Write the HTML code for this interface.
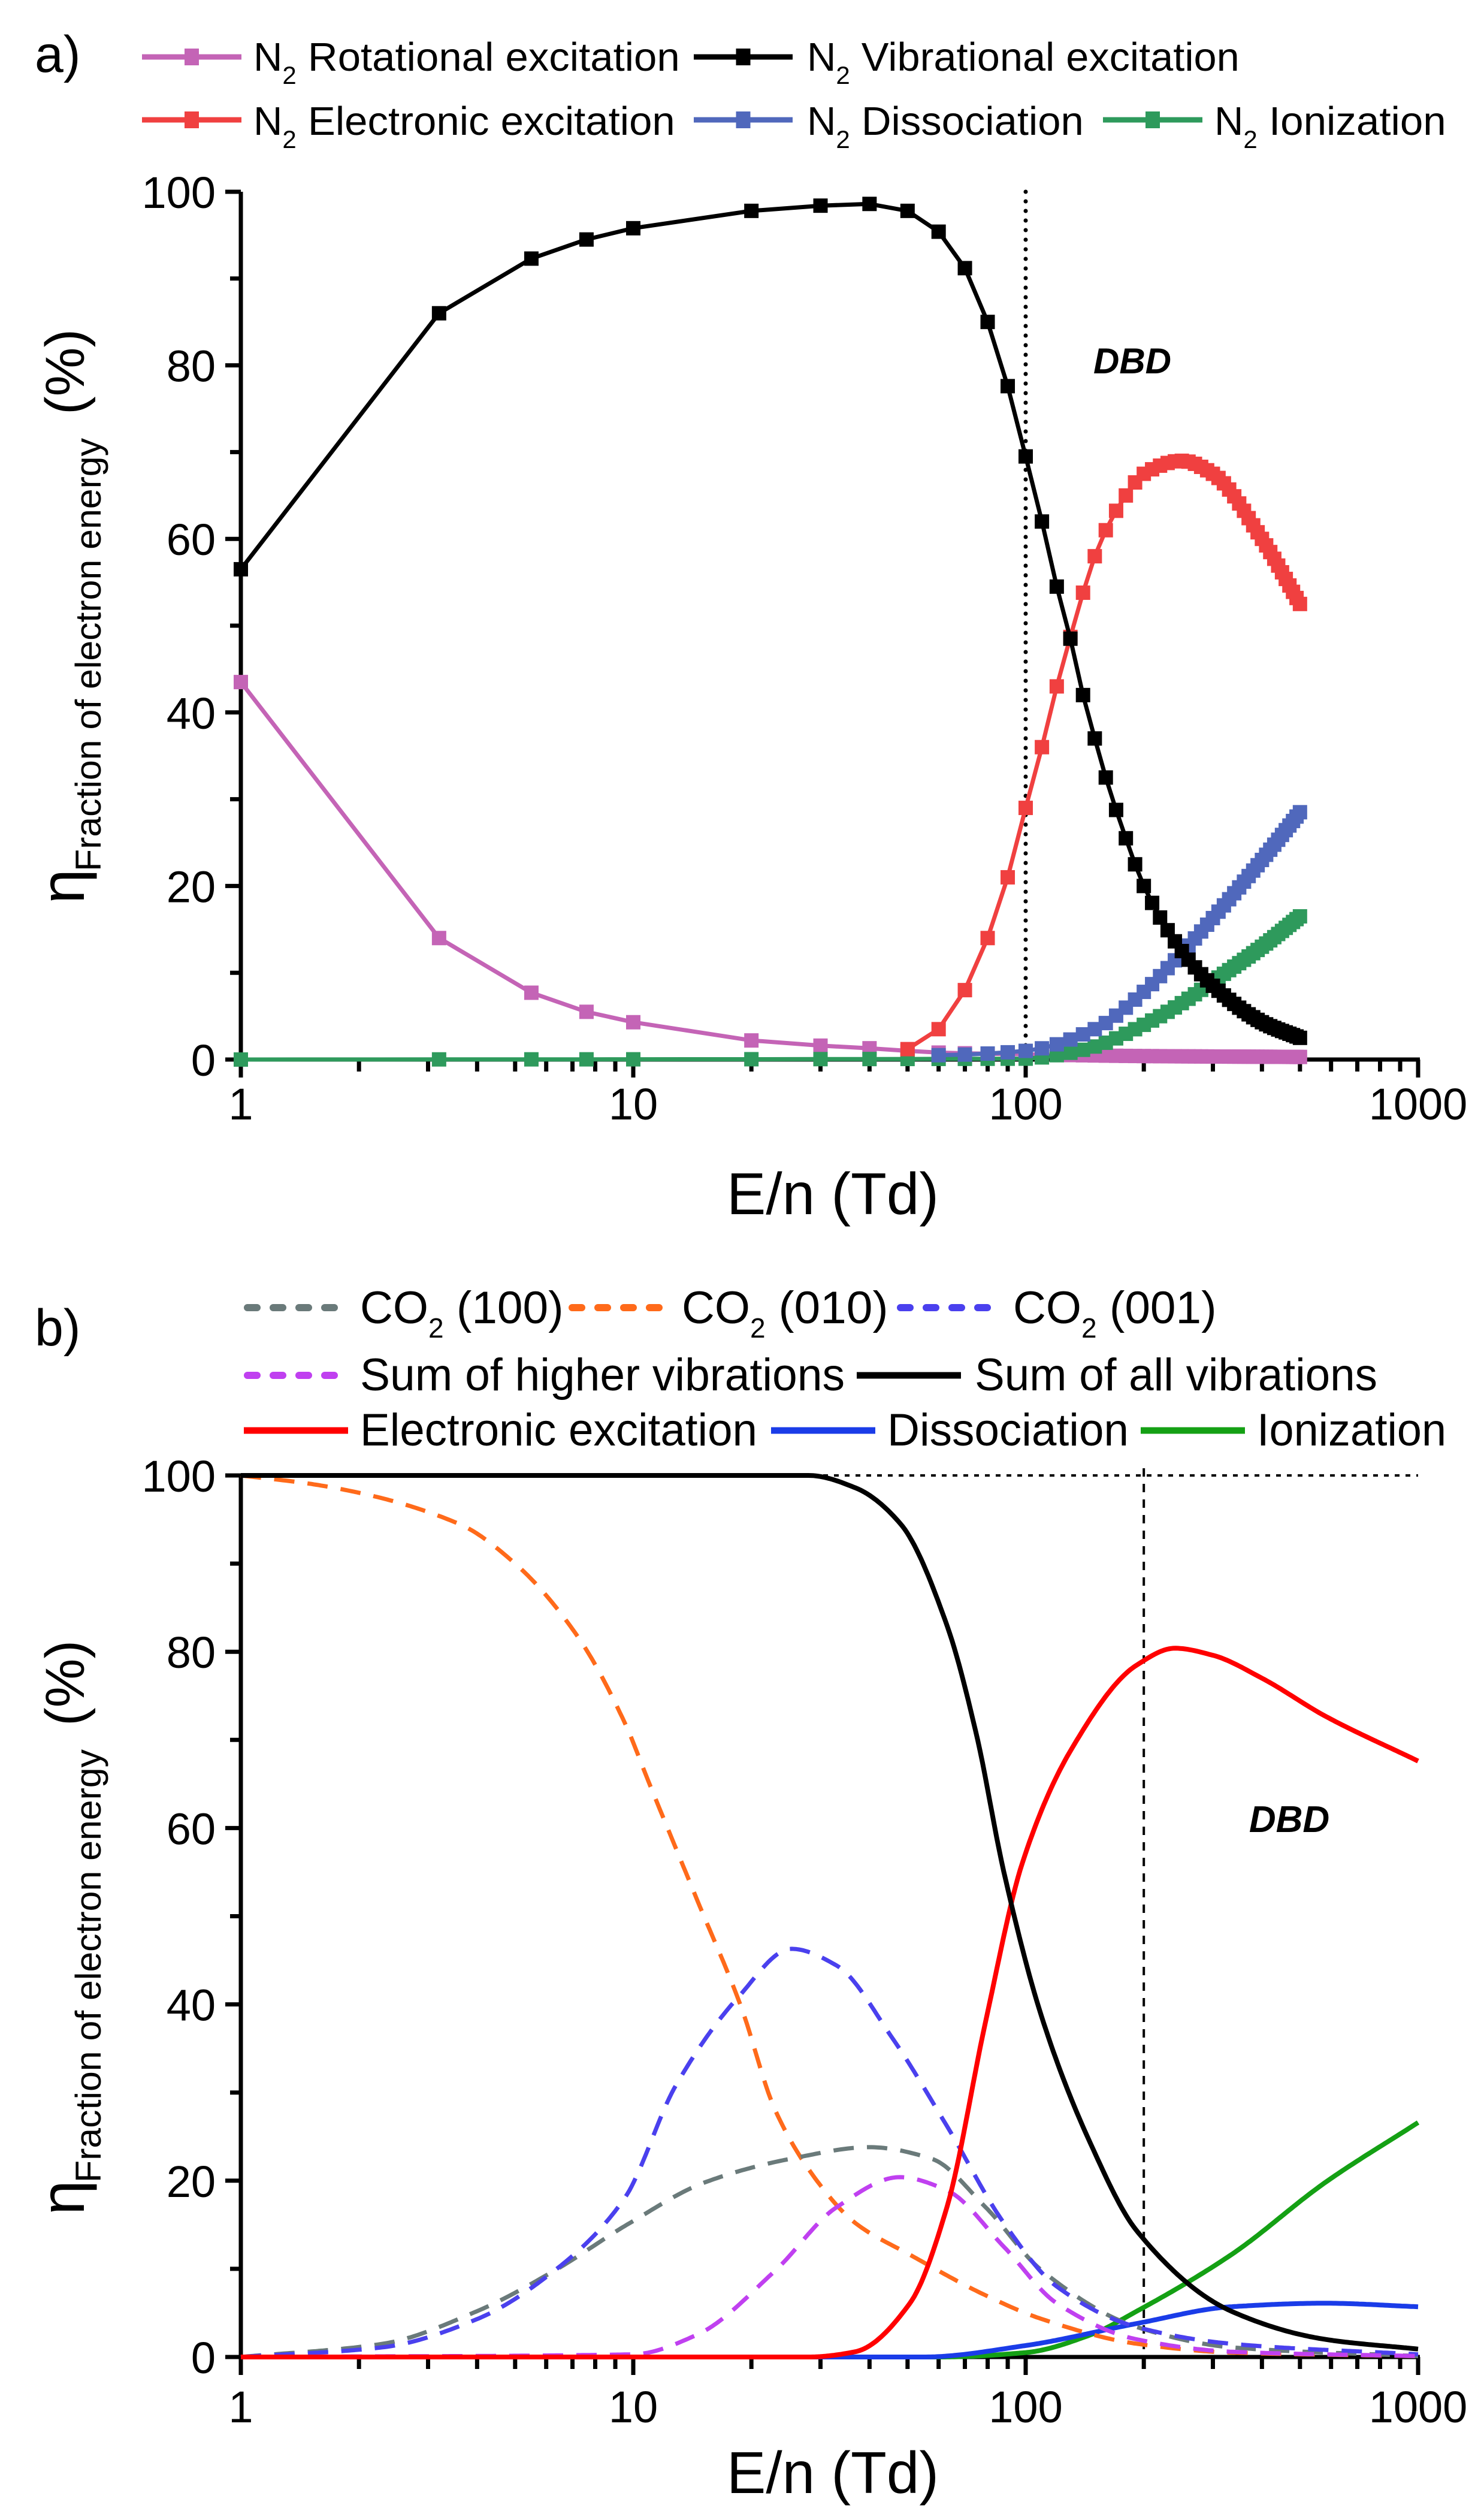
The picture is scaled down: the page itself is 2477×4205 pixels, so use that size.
<!DOCTYPE html>
<html><head><meta charset="utf-8"><style>
html,body{margin:0;padding:0;background:#fff;}
svg{display:block;}
text{font-family:"Liberation Sans",Arial,sans-serif;fill:#000;}
</style></head><body>
<svg id="s" xmlns="http://www.w3.org/2000/svg" width="2477" height="4205" viewBox="0 0 2477 4205">
<rect width="2477" height="4205" fill="#fff"/>
<defs><clipPath id="cl"><rect x="0" y="0" width="2453" height="4205"/></clipPath></defs>
<text x="58" y="120" font-size="86">a)</text>
<text x="58" y="2245" font-size="86">b)</text>
<g font-size="67">
<text x="423" y="118">N<tspan font-size="42" dy="22">2</tspan><tspan dy="-22" textLength="640" lengthAdjust="spacingAndGlyphs"> Rotational excitation</tspan></text>
<text x="1347" y="118">N<tspan font-size="42" dy="22">2</tspan><tspan dy="-22" textLength="650" lengthAdjust="spacingAndGlyphs"> Vibrational excitation</tspan></text>
<text x="423" y="225">N<tspan font-size="42" dy="22">2</tspan><tspan dy="-22" textLength="632" lengthAdjust="spacingAndGlyphs"> Electronic excitation</tspan></text>
<text x="1347" y="225">N<tspan font-size="42" dy="22">2</tspan><tspan dy="-22" textLength="390" lengthAdjust="spacingAndGlyphs"> Dissociation</tspan></text>
<text x="2027" y="225">N<tspan font-size="42" dy="22">2</tspan><tspan dy="-22" textLength="315" lengthAdjust="spacingAndGlyphs"> Ionization</tspan></text>
</g>
<g font-size="76">
<text x="601" y="2208">CO<tspan font-size="46" dy="24">2</tspan><tspan dy="-24" textLength="200" lengthAdjust="spacingAndGlyphs"> (100)</tspan></text>
<text x="1138" y="2208">CO<tspan font-size="46" dy="24">2</tspan><tspan dy="-24" textLength="205" lengthAdjust="spacingAndGlyphs"> (010)</tspan></text>
<text x="1691" y="2208">CO<tspan font-size="46" dy="24">2</tspan><tspan dy="-24" textLength="200" lengthAdjust="spacingAndGlyphs"> (001)</tspan></text>
<text x="601" y="2320" textLength="809" lengthAdjust="spacingAndGlyphs">Sum of higher vibrations</text>
<text x="1627" y="2320" textLength="672" lengthAdjust="spacingAndGlyphs">Sum of all vibrations</text>
<text x="601" y="2412" textLength="663" lengthAdjust="spacingAndGlyphs">Electronic excitation</text>
<text x="1481" y="2412" textLength="403" lengthAdjust="spacingAndGlyphs">Dissociation</text>
<text x="2098" y="2412" textLength="316" lengthAdjust="spacingAndGlyphs">Ionization</text>
</g>
<g transform="rotate(-90)">
<text x="-1508" y="140" font-size="104">η</text>
<text x="-1454" y="168" font-size="60" textLength="723" lengthAdjust="spacingAndGlyphs">Fraction of electron energy</text>
<text x="-692" y="140" font-size="92">(%)</text>
<text x="-3696" y="140" font-size="104">η</text>
<text x="-3642" y="168" font-size="60" textLength="723" lengthAdjust="spacingAndGlyphs">Fraction of electron energy</text>
<text x="-2880" y="140" font-size="92">(%)</text>
</g>
<text x="1390" y="2026" font-size="98" text-anchor="middle">E/n (Td)</text>
<text x="1390" y="4160" font-size="98" text-anchor="middle">E/n (Td)</text>
<text x="1890" y="623" font-size="60" font-weight="bold" font-style="italic" text-anchor="middle">DBD</text>
<text x="2152" y="3057" font-size="62" font-weight="bold" font-style="italic" text-anchor="middle">DBD</text>
<g id="dyn"></g>
</svg>
<script>
var NS="http://www.w3.org/2000/svg",G=document.getElementById("dyn");
function el(t,a){var e=document.createElementNS(NS,t);for(var k in a)e.setAttribute(k,a[k]);G.appendChild(e);return e;}
function X(v){return 402+655*Math.log10(v);}
function YA(p){return 1768-14.48*p;}
function YB(p){return 3933-14.71*p;}
function mono(pts){var n=pts.length,xs=pts.map(function(p){return Math.log10(p[0]);}),ys=pts.map(function(p){return p[1];});
 var d=[],m=[];for(var i=0;i<n-1;i++)d.push((ys[i+1]-ys[i])/(xs[i+1]-xs[i]));
 m[0]=d[0];m[n-1]=d[n-2];
 for(i=1;i<n-1;i++){if(d[i-1]*d[i]<=0)m[i]=0;else{var w1=2*(xs[i+1]-xs[i])+(xs[i]-xs[i-1]),w2=(xs[i+1]-xs[i])+2*(xs[i]-xs[i-1]);m[i]=(w1+w2)/(w1/d[i-1]+w2/d[i]);}}
 for(i=0;i<n-1;i++){if(d[i]==0){m[i]=0;m[i+1]=0;}}
 return function(x){var lx=Math.log10(x);if(lx<=xs[0])return ys[0];if(lx>=xs[n-1])return ys[n-1];
  for(var i=0;i<n-1;i++)if(lx<=xs[i+1]){var h=xs[i+1]-xs[i],t=(lx-xs[i])/h,t2=t*t,t3=t2*t;
   return (2*t3-3*t2+1)*ys[i]+(t3-2*t2+t)*h*m[i]+(-2*t3+3*t2)*ys[i+1]+(t3-t2)*h*m[i+1];}};}
function curve(pts,Y,x0,x1,attrs){var f=mono(pts),d="",n=500;for(var i=0;i<=n;i++){var lx=Math.log10(x0)+(Math.log10(x1)-Math.log10(x0))*i/n,x=Math.pow(10,lx);
 d+=(i?"L":"M")+X(x).toFixed(1)+","+Y(f(x)).toFixed(1);}
 attrs.d=d;attrs.fill="none";attrs["stroke-linejoin"]="round";el("path",attrs);}
function axes(Y0,Ytop,Yf){
 el("line",{x1:402,y1:Ytop,x2:402,y2:Y0+14,stroke:"#000","stroke-width":7});
 el("line",{x1:395,y1:Y0,x2:2370,y2:Y0,stroke:"#000","stroke-width":7});
 for(var p=0;p<=100;p+=10){var y=Yf(p);el("line",{x1:p%20?384:376,y1:y,x2:402,y2:y,stroke:"#000","stroke-width":7});
  if(p%20==0){var t=el("text",{x:360,y:y+27,"font-size":74,"text-anchor":"end"});t.textContent=p;}}
 for(var dec=0;dec<3;dec++)for(var k=1;k<=10;k++){var v=Math.pow(10,dec)*k;var x=X(v);
  if(k==1&&dec>0)continue;
  el("line",{x1:x,y1:Y0,x2:x,y2:Y0+((k==1||k==10)?30:20),stroke:"#000","stroke-width":7});}
}
axes(1768,320,YA);axes(3933,2462,YB);
var labs=[[1,"1"],[10,"10"],[100,"100"],[1000,"1000"]];
labs.forEach(function(l){var t=el("text",{x:X(l[0]),y:1868,"font-size":74,"text-anchor":"middle"});t.textContent=l[1];
 var t2=el("text",{x:X(l[0]),y:4042,"font-size":74,"text-anchor":"middle","clip-path":"url(#cl)"});t2.textContent=l[1];});
el("line",{x1:X(100),y1:320,x2:X(100),y2:1768,stroke:"#000","stroke-width":7,"stroke-dasharray":"0 16","stroke-linecap":"round"});
var xs=[1,3.2,5.5,7.6,10,20,30,40,50,60,70,80,90,100];
var dense=[];for(var v=110;v<=500;v+=10)dense.push(v);
var blk=[[1,56.5],[3.2,86],[5.5,92.3],[7.6,94.5],[10,95.8],[20,97.8],[30,98.4],[40,98.6],[50,97.8],[60,95.4],[70,91.2],[80,85],[90,77.6],[100,69.5],[110,62],[120,54.5],[130,48.5],[140,42],[150,37],[160,32.5],[180,25.5],[200,20],[250,12.5],[300,8.5],[400,4.3],[500,2.5]];
var red=[[1,0],[40,0],[50,1.2],[60,3.5],[70,8],[80,14],[90,21],[100,29],[110,36],[120,43],[130,48.7],[140,53.8],[150,58],[160,61],[180,65],[200,67.5],[250,69],[300,67.5],[400,60],[500,52.5]];
var rot=[[1,43.5],[3.2,14],[5.5,7.7],[7.6,5.5],[10,4.3],[20,2.2],[30,1.6],[40,1.3],[50,1],[60,0.8],[100,0.6],[200,0.4],[500,0.3]];
var dis=[[1,0],[60,0.5],[100,1],[150,3.5],[200,7.8],[250,12.3],[300,16.3],[400,23],[500,28.5]];
var ion=[[1,0],[100,0.1],[120,0.5],[150,1.5],[200,4],[250,6.5],[300,9],[400,13],[500,16.5]];
function series(pts,col,mx){var f=mono(pts);var all=mx.slice().sort(function(a,b){return a-b;});
 var d="";all.forEach(function(x,i){d+=(i?"L":"M")+X(x).toFixed(1)+","+YA(f(x)).toFixed(1);});
 el("path",{d:d,fill:"none",stroke:col,"stroke-width":7,"stroke-linejoin":"round"});
 all.forEach(function(x){var y=YA(f(x));el("rect",{x:X(x)-12,y:y-12,width:24,height:24,fill:col});});}
var C={rot:"#c464b6",blk:"#000",red:"#f04040",dis:"#5068bc",ion:"#2e9a5c"};
series(rot,C.rot,xs.concat(dense));
series(ion,C.ion,xs.concat(dense));
series(dis,C.dis,xs.slice(9).concat(dense));
series(red,C.red,xs.slice(8).concat(dense));
series(blk,C.blk,xs.concat(dense));
function legA(x1,x2,y,col){el("line",{x1:x1,y1:y,x2:x2,y2:y,stroke:col,"stroke-width":9});el("rect",{x:(x1+x2)/2-12,y:y-14,width:24,height:28,fill:col});}
legA(237,403,95,C.rot);legA(1158,1323,95,C.blk);legA(237,403,200,C.red);legA(1158,1323,200,C.dis);legA(1841,2007,200,C.ion);
el("line",{x1:402,y1:2462,x2:2367,y2:2462,stroke:"#000","stroke-width":4,"stroke-dasharray":"8 10"});
el("line",{x1:X(200),y1:2450,x2:X(200),y2:3933,stroke:"#000","stroke-width":4,"stroke-dasharray":"14 12"});
var B={g:"#6a7a7a",o:"#ff6a1a",bd:"#4a40ee",m:"#c040f0",k:"#000",r:"#ff0000",b:"#1a3ce8",gr:"#14a014"};
var orange=[[1,100],[1.58,98.9],[3.6,94.5],[5,90],[7.2,81.8],[9.5,72],[11,65],[14.5,52],[18.8,39.8],[23,28],[29.6,19.8],[36.8,15.2],[50.7,11.6],[79,7],[110,4.3],[192,1.5],[334,0.5],[1000,0.1]];
var bd=[[1,0],[2.3,1.1],[4,4.3],[6.3,9.8],[9.5,18],[12.8,30.7],[18.5,40.8],[25.3,46.3],[33,44.4],[45.7,36.2],[63,26.2],[88,15.2],[120,8],[192,3.4],[334,1.5],[1000,0.3]];
var gray=[[1,0],[2.3,1.5],[4,5.2],[6.3,9.8],[9.8,15.2],[15.2,19.8],[25.3,22.5],[40,23.8],[57.5,22.5],[79,17],[110,9.8],[192,3.4],[334,1.1],[1000,0.1]];
var mag=[[1,0],[10,0.3],[14.5,2.5],[23,9.8],[33,17],[47.8,20.4],[63,18.9],[88,12.5],[120,6.1],[192,2],[334,0.6],[1000,0.1]];
var sum=[[1,100],[28,100],[36.8,98.6],[48,94.5],[63,83],[75,70.5],[88,55],[110,38.5],[146,24.3],[192,14.3],[334,5.2],[580,2],[1000,0.9]];
var rb=[[1,0],[28,0],[36.8,0.6],[50.7,6.1],[63,17],[79,38],[98,56],[131,69],[192,78.5],[240,80.4],[300,79.6],[400,77],[580,72.7],[1000,67.6]];
var gb=[[1,0],[60,0],[100,0.5],[146,2.5],[192,5.2],[334,11.6],[580,19.8],[1000,26.6]];
var db=[[1,0],[55,0],[100,1.3],[192,3.8],[334,5.7],[580,6.1],[1000,5.7]];
var dash="34 22";
curve(gb,YB,1,1000,{stroke:B.gr,"stroke-width":8});
curve(db,YB,1,1000,{stroke:B.b,"stroke-width":8});
curve(orange,YB,1,1000,{stroke:B.o,"stroke-width":7,"stroke-dasharray":dash});
curve(gray,YB,1,1000,{stroke:B.g,"stroke-width":7,"stroke-dasharray":dash});
curve(bd,YB,1,1000,{stroke:B.bd,"stroke-width":7,"stroke-dasharray":dash});
curve(mag,YB,1,1000,{stroke:B.m,"stroke-width":7,"stroke-dasharray":dash});
curve(rb,YB,1,1000,{stroke:B.r,"stroke-width":8});
curve(sum,YB,1,1000,{stroke:B.k,"stroke-width":8});
function legB(x1,x2,y,col,d){var a={x1:x1,y1:y,x2:x2,y2:y,stroke:col,"stroke-width":d?12:11};if(d){a["stroke-dasharray"]="16 27";a["stroke-linecap"]="round";a.x1=x1+6;}el("line",a);}
legB(407,581,2182,B.g,1);legB(949,1123,2182,B.o,1);legB(1497,1671,2182,B.bd,1);
legB(407,581,2295,B.m,1);legB(1430,1604,2295,B.k,0);
legB(407,581,2387,B.r,0);legB(1287,1461,2387,B.b,0);legB(1904,2078,2387,B.gr,0);
</script>
</body></html>
